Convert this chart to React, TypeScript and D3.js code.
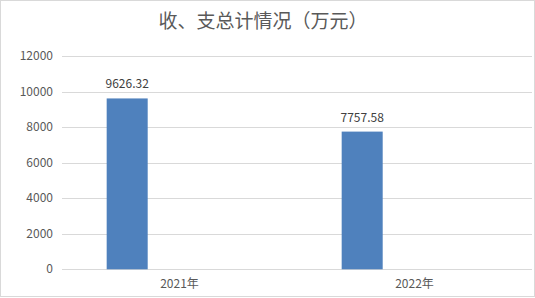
import React from "react";
import * as d3 from "d3";

const categories = ["2021年", "2022年"];
const seriesNames = ["收支总计", "空"];
const values = [9626.32, 7757.58];
const valueLabels = ["9626.32", "7757.58"];
const yTicks = [0, 2000, 4000, 6000, 8000, 10000, 12000];
const title = "收、支总计情况（万元）";

const W = 535;
const H = 298;

export default function App() {
  const x0 = d3.scaleBand<string>().domain(categories).range([62, 532]).padding(0);
  const x1 = d3
    .scaleBand<string>()
    .domain(seriesNames)
    .range([0, x0.bandwidth()])
    .paddingInner(0.608)
    .paddingOuter(0.427);
  const y = d3.scaleLinear().domain([0, 12000]).range([269.3, 56.3]);
  const font = "'Microsoft YaHei', 'Noto Sans CJK SC', 'Noto Sans', sans-serif";

  return (
    <div style={{ position: "fixed", left: 0, top: 0 }}>
      <svg width={W} height={H} style={{ display: "block" }} fontFamily={font}>
        <rect x={0} y={0} width={W} height={H} fill="#fff" />
        <rect x={0.5} y={0.5} width={534} height={296} fill="none" stroke="#d9d9d9" />
        <text x={263} y={28} textAnchor="middle" fontSize={19} fill="#595959">
          {title}
        </text>
        {yTicks.map((t) => (
          <g key={t}>
            <line x1={62} x2={532} y1={Math.round(y(t)) + 0.5} y2={Math.round(y(t)) + 0.5} stroke="#d9d9d9" strokeWidth={1} />
            <text x={53} y={y(t) + 4} textAnchor="end" fontSize={12} fill="#595959">
              {t}
            </text>
          </g>
        ))}
        {categories.map((c, i) => {
          const bx = (x0(c) as number) + (x1(seriesNames[0]) as number);
          const bw = x1.bandwidth();
          return (
            <g key={c}>
              <rect x={bx} y={y(values[i])} width={bw} height={y(0) - y(values[i])} fill="#4f81bd" />
              <text x={bx + bw / 2} y={y(values[i]) - 10} textAnchor="middle" fontSize={12} fill="#404040">
                {valueLabels[i]}
              </text>
              <text x={(x0(c) as number) + x0.bandwidth() / 2} y={288} textAnchor="middle" fontSize={12} fill="#595959">
                {c}
              </text>
            </g>
          );
        })}
      </svg>
    </div>
  );
}
